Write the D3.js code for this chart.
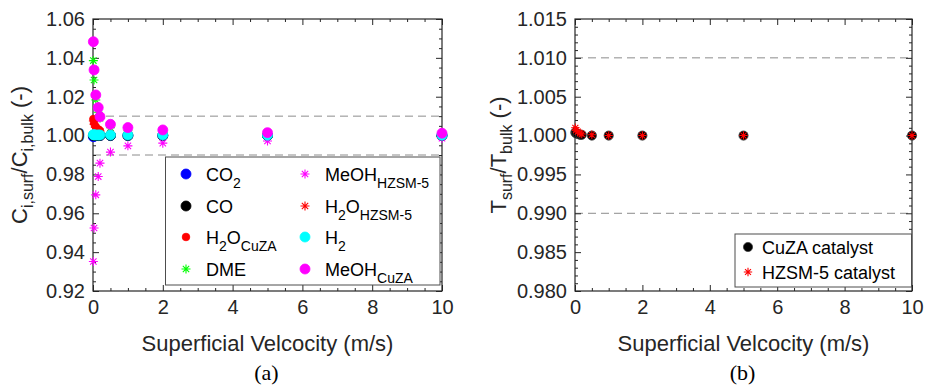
<!DOCTYPE html>
<html>
<head>
<meta charset="utf-8">
<script src="https://cdn.jsdelivr.net/npm/d3@7/dist/d3.min.js"></script>
<style>
  html, body { margin: 0; padding: 0; background: #fff; }
  svg { display: block; font-family: "Liberation Sans", Arial, Helvetica, sans-serif; }
</style>
</head>
<body>
<svg id="fig" width="926" height="392"></svg>
<script>
// Superficial velocities (m/s) at which the surface/bulk ratios were evaluated
const velocity = [0.01, 0.03, 0.08, 0.15, 0.2, 0.5, 1, 2, 5, 10];

// Panel (a): surface-to-bulk concentration ratios per species
const co2       = [0.9994, 0.9997, 0.9999, 1.0000, 1.0000, 1.0000, 1.0000, 1.0000, 1.0000, 1.0000];
const co        = [1.0001, 1.0001, 1.0001, 1.0000, 1.0000, 1.0000, 1.0000, 1.0000, 1.0000, 1.0000];
const h2oCuZA   = [1.0085, 1.0065, 1.0045, 1.0032, 1.0025, 1.0010, 1.0007, 1.0004, 1.0002, 1.0001];
const dme       = [1.0386, 1.0286, 1.0183, 1.0120, 1.0090, 1.0040, 1.0025, 1.0015, 1.0008, 1.0005];
const meohHZSM5 = [0.9352, 0.9524, 0.9695, 0.9789, 0.9858, 0.9915, 0.9947, 0.9961, 0.9972, 0.9986];
const h2oHZSM5  = [1.0075, 1.0058, 1.0042, 1.0030, 1.0022, 1.0009, 1.0006, 1.0004, 1.0002, 1.0001];
const h2        = [1.0004, 1.0004, 1.0003, 1.0003, 1.0003, 1.0003, 1.0003, 1.0003, 1.0002, 1.0002];
const meohCuZA  = [1.0483, 1.0338, 1.0209, 1.0144, 1.0097, 1.0058, 1.0041, 1.0029, 1.0015, 1.0012];

// Panel (b): surface-to-bulk temperature ratios per catalyst
const tempCuZA  = [1.0004, 1.0003, 1.0002, 1.0001, 1.0001, 1.0000, 1.0000, 1.0000, 1.0000, 1.0000];
const tempHZSM5 = [1.0010, 1.0007, 1.0005, 1.0003, 1.0002, 1.0001, 1.0000, 1.0000, 1.0000, 1.0000];

// Axis ticks
const xTicks = [0, 2, 4, 6, 8, 10];
const yTicksA = [0.92, 0.94, 0.96, 0.98, 1.00, 1.02, 1.04, 1.06];
const yTicksB = [0.980, 0.985, 0.990, 0.995, 1.000, 1.005, 1.010, 1.015];
const refLinesA = [0.99, 1.01];
const refLinesB = [0.990, 1.010];

const svg = d3.select("#fig");
const AX = "#262626";

// MATLAB-style '*' marker: '+' overlaid with 'x'
function asterisk(r) {
  const a = r * 0.7071;
  return `M${-r},0L${r},0M0,${-r}L0,${r}M${-a},${-a}L${a},${a}M${-a},${a}L${a},${-a}`;
}

// Text with TeX-like subscripts: parts = [[text, isSub], ...]
function richText(sel, parts, size, subSize, shift) {
  let prevSub = false;
  parts.forEach(([t, sub]) => {
    const ts = sel.append("tspan").text(t).attr("font-size", sub ? subSize : size);
    if (sub && !prevSub) ts.attr("dy", shift);
    if (!sub && prevSub) ts.attr("dy", -shift);
    prevSub = sub;
  });
  return sel;
}

function range(a, b, step) {
  const out = [];
  const n = Math.round((b - a) / step);
  for (let i = 0; i <= n; i++) out.push(+(a + i * step).toFixed(6));
  return out;
}

function drawPanel(opt) {
  const x = d3.scaleLinear().domain([0, 10]).range([opt.left, opt.right]);
  const y = d3.scaleLinear().domain(opt.yDomain).range([opt.bottom, opt.top]);
  const g = svg.append("g");

  // reference dashed lines
  g.selectAll("line.ref").data(opt.refLines).join("line")
    .attr("x1", opt.left).attr("x2", opt.right)
    .attr("y1", d => y(d)).attr("y2", d => y(d))
    .attr("stroke", "#8c8c8c").attr("stroke-width", 1)
    .attr("stroke-dasharray", "8,5");

  const isMajor = (v, ticks) => ticks.some(t => Math.abs(t - v) < 1e-9);
  const xMinor = range(0, 10, 0.5).filter(v => !isMajor(v, xTicks));
  const yMinor = range(opt.yDomain[0], opt.yDomain[1], opt.yMinorStep).filter(v => !isMajor(v, opt.yTicks));

  // major axes with inward ticks
  g.append("g").attr("transform", `translate(0,${opt.bottom})`)
    .call(d3.axisBottom(x).tickValues(xTicks).tickSizeInner(-6).tickSizeOuter(0).tickPadding(9).tickFormat(d3.format("d")));
  g.append("g").attr("transform", `translate(0,${opt.top})`)
    .call(d3.axisTop(x).tickValues(xTicks).tickSizeInner(-6).tickSizeOuter(0).tickFormat(""));
  g.append("g").attr("transform", `translate(${opt.left},0)`)
    .call(d3.axisLeft(y).tickValues(opt.yTicks).tickSizeInner(-6).tickSizeOuter(0).tickPadding(8).tickFormat(d3.format(opt.yFormat)));
  g.append("g").attr("transform", `translate(${opt.right},0)`)
    .call(d3.axisRight(y).tickValues(opt.yTicks).tickSizeInner(-6).tickSizeOuter(0).tickFormat(""));
  // minor ticks
  g.append("g").attr("transform", `translate(0,${opt.bottom})`)
    .call(d3.axisBottom(x).tickValues(xMinor).tickSizeInner(-3).tickSizeOuter(0).tickFormat(""));
  g.append("g").attr("transform", `translate(0,${opt.top})`)
    .call(d3.axisTop(x).tickValues(xMinor).tickSizeInner(-3).tickSizeOuter(0).tickFormat(""));
  g.append("g").attr("transform", `translate(${opt.left},0)`)
    .call(d3.axisLeft(y).tickValues(yMinor).tickSizeInner(-3).tickSizeOuter(0).tickFormat(""));
  g.append("g").attr("transform", `translate(${opt.right},0)`)
    .call(d3.axisRight(y).tickValues(yMinor).tickSizeInner(-3).tickSizeOuter(0).tickFormat(""));

  g.selectAll(".domain").remove();
  g.selectAll(".tick line").attr("stroke", AX).attr("stroke-width", 1);
  g.selectAll(".tick text").attr("fill", AX).attr("font-size", 20)
    .attr("font-family", "'Liberation Sans', Arial, sans-serif");

  // box
  g.append("rect")
    .attr("x", opt.left).attr("y", opt.top)
    .attr("width", opt.right - opt.left).attr("height", opt.bottom - opt.top)
    .attr("fill", "none").attr("stroke", AX).attr("stroke-width", 1.2);

  // data
  const marks = g.append("g");
  opt.series.forEach(s => {
    const pts = velocity.map((v, i) => [x(v), y(s.values[i])]);
    if (s.shape === "circle") {
      marks.append("g").selectAll("circle").data(pts).join("circle")
        .attr("cx", d => d[0]).attr("cy", d => d[1]).attr("r", s.r)
        .attr("fill", s.color).attr("stroke", s.edge || s.color).attr("stroke-width", 0.8);
    } else {
      marks.append("g").selectAll("path").data(pts).join("path")
        .attr("transform", d => `translate(${d[0]},${d[1]})`)
        .attr("d", asterisk(s.r)).attr("fill", "none")
        .attr("stroke", s.color).attr("stroke-width", 1.1);
    }
  });

  // x label
  g.append("text")
    .attr("x", (opt.left + opt.right) / 2).attr("y", 351)
    .attr("text-anchor", "middle").attr("font-size", 22).attr("fill", AX)
    .text("Superficial Velcocity (m/s)");

  // panel tag
  g.append("text")
    .attr("x", (opt.left + opt.right) / 2 - 1).attr("y", 380)
    .attr("text-anchor", "middle").attr("font-size", 22).attr("fill", "#000")
    .attr("font-family", "'Liberation Serif', 'DejaVu Serif', serif")
    .text(opt.tag);

  // y label
  const yl = g.append("text")
    .attr("transform", `translate(${opt.yLabelX},${(opt.top + opt.bottom) / 2}) rotate(-90)`)
    .attr("text-anchor", "middle").attr("fill", AX);
  richText(yl, opt.yLabel, 22, 16, 6);

  // legend
  const L = opt.legend;
  g.append("rect").attr("x", L.x).attr("y", L.y).attr("width", L.w).attr("height", L.h)
    .attr("fill", "#fff").attr("stroke", "#4d4d4d").attr("stroke-width", 1);
  L.items.forEach(it => {
    const s = opt.series[it.idx];
    if (s.shape === "circle") {
      g.append("circle").attr("cx", it.mx).attr("cy", it.my).attr("r", s.r)
        .attr("fill", s.color).attr("stroke", s.edge || s.color).attr("stroke-width", 0.8);
    } else {
      g.append("path").attr("transform", `translate(${it.mx},${it.my})`)
        .attr("d", asterisk(s.r)).attr("fill", "none").attr("stroke", s.color).attr("stroke-width", 1.1);
    }
    const t = g.append("text").attr("x", it.mx + L.textGap).attr("y", it.my + 6.5).attr("fill", "#000");
    richText(t, s.label, 18, 14, 7);
  });
}

// Panel (a)
drawPanel({
  left: 93, right: 442, top: 19, bottom: 291,
  yDomain: [0.92, 1.06], yTicks: yTicksA, yMinorStep: 0.005, yFormat: ".2f",
  refLines: refLinesA, tag: "(a)", yLabelX: 27,
  yLabel: [["C", false], ["i,surf", true], ["/C", false], ["i,bulk", true], [" (-)", false]],
  series: [
    { values: co2,       shape: "circle",   color: "#0000ff", r: 5,   label: [["CO", false], ["2", true]] },
    { values: co,        shape: "circle",   color: "#000000", r: 5,   label: [["CO", false]] },
    { values: h2oCuZA,   shape: "circle",   color: "#ff0000", r: 3.8, label: [["H", false], ["2", true], ["O", false], ["CuZA", true]] },
    { values: dme,       shape: "asterisk", color: "#00ff00", r: 4.5, label: [["DME", false]] },
    { values: meohHZSM5, shape: "asterisk", color: "#ff00ff", r: 4.5, label: [["MeOH", false], ["HZSM-5", true]] },
    { values: h2oHZSM5,  shape: "asterisk", color: "#ff0000", r: 4.5, label: [["H", false], ["2", true], ["O", false], ["HZSM-5", true]] },
    { values: h2,        shape: "circle",   color: "#00ffff", r: 5,   label: [["H", false], ["2", true]] },
    { values: meohCuZA,  shape: "circle",   color: "#ff00ff", r: 5,   label: [["MeOH", false], ["CuZA", true]] }
  ],
  legend: {
    x: 165.5, y: 157, w: 274.5, h: 128, textGap: 20,
    items: [
      { idx: 0, mx: 186, my: 174 }, { idx: 1, mx: 186, my: 206 },
      { idx: 2, mx: 186, my: 237 }, { idx: 3, mx: 186, my: 269 },
      { idx: 4, mx: 305, my: 174 }, { idx: 5, mx: 305, my: 206 },
      { idx: 6, mx: 305, my: 237 }, { idx: 7, mx: 305, my: 269 }
    ]
  }
});

// Panel (b)
drawPanel({
  left: 575, right: 912, top: 19, bottom: 291,
  yDomain: [0.980, 1.015], yTicks: yTicksB, yMinorStep: 0.001, yFormat: ".3f",
  refLines: refLinesB, tag: "(b)", yLabelX: 506,
  yLabel: [["T", false], ["surf", true], ["/T", false], ["bulk", true], [" (-)", false]],
  series: [
    { values: tempCuZA,  shape: "circle",   color: "#000000", edge: "#404040", r: 4.6, label: [["CuZA catalyst", false]] },
    { values: tempHZSM5, shape: "asterisk", color: "#ff0000", r: 4.2, label: [["HZSM-5 catalyst", false]] }
  ],
  legend: {
    x: 735, y: 234, w: 176.5, h: 53, textGap: 14,
    items: [ { idx: 0, mx: 748, my: 247 }, { idx: 1, mx: 748, my: 272 } ]
  }
});
</script>
</body>
</html>
